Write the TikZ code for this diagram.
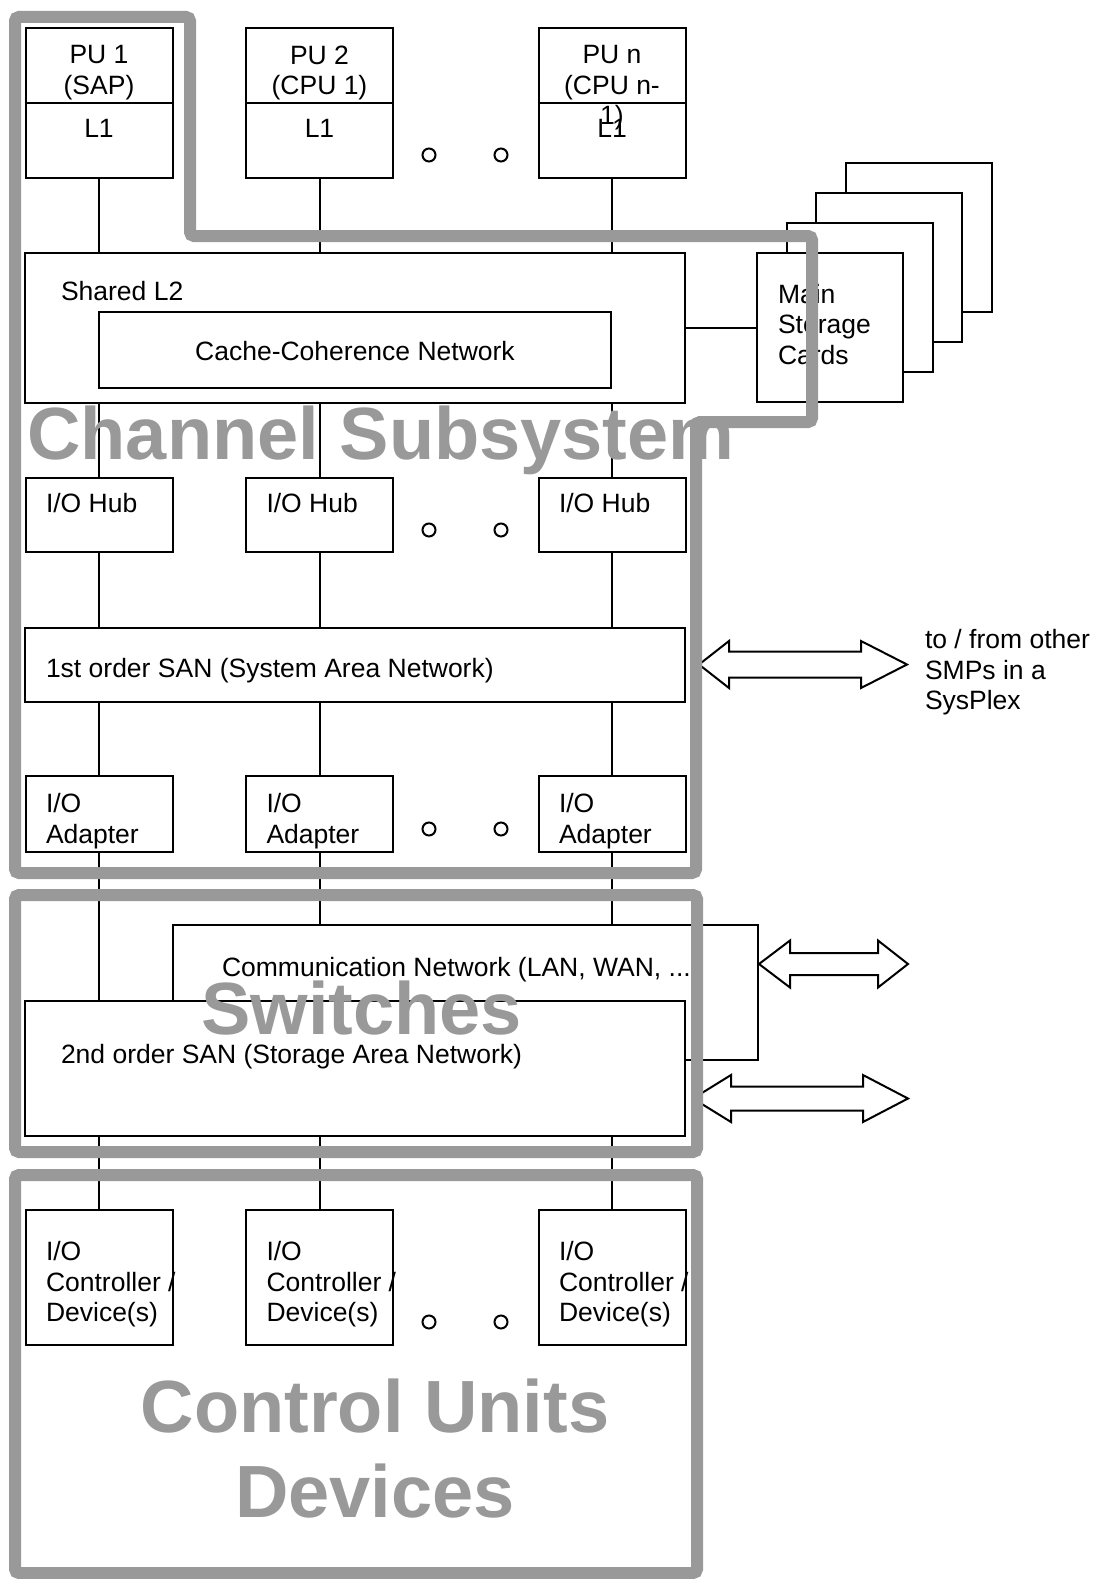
\documentclass[tikz,border=0pt]{standalone}
\usepackage{fontspec}
\setmainfont{Liberation Sans}
\definecolor{framegray}{RGB}{153,153,153}
\tikzset{
  box/.style={draw,rectangle,fill=white,inner sep=0pt},
  lbl/.style={inner sep=0pt,font=\fontsize{26.5}{30.5}\selectfont},
  bigtext/.style={inner sep=0pt,text=framegray,align=center,font=\bfseries\fontsize{74}{84.5}\selectfont},
  groupframe/.style={draw=framegray,line width=12pt,rounded corners=4pt},
  bigarr/.style={draw,fill=white,line join=miter},
  dotmark/.style={circle,draw,minimum size=13pt,inner sep=0pt}
}
\begin{document}
\begin{tikzpicture}[x=1pt,y=-1pt,line width=2pt]
\useasboundingbox (0,0) rectangle (1093,1579);

% processors
\node[box,minimum width=147pt,minimum height=150pt] (pu1) at (99,103) {};
\node[box,minimum width=147pt,minimum height=150pt] (pu2) at (319.5,103) {};
\node[box,minimum width=147pt,minimum height=150pt] (pu3) at (612,103) {};
\foreach \c in {1,2,3} \draw (pu\c.west) -- (pu\c.east);
\node[lbl,align=center,anchor=north] (pu1t) at (99,44.5) {PU 1\\(SAP)};
\node[lbl,align=center,anchor=north] (pu2t) at (319.5,44.5) {PU 2\\(CPU 1)};
\node[lbl,align=center,anchor=north] (pu3t) at (612,44.5) {PU n\\(CPU n-\\1)};
\foreach \c/\x in {1/99,2/319.5,3/612}
  \node[lbl,anchor=north] (l1\c) at (\x,118.5) {L1};

% shared L2 and main storage
\node[box,minimum width=660pt,minimum height=150pt] (l2) at (355,328) {};
\node[lbl,anchor=north west] (l2t) at (60,280.5) {Shared L2};
\node[box,minimum width=512pt,minimum height=76pt] (ccn) at (355,350) {};
\node[lbl,anchor=north] (ccnt) at (355,340.5) {Cache-Coherence Network};
\node[box,minimum width=146pt,minimum height=149pt] (ms4) at (918.5,237.5) {};
\node[box,minimum width=146pt,minimum height=149pt] (ms3) at (889,267.5) {};
\node[box,minimum width=146pt,minimum height=149pt] (ms2) at (859.5,297.5) {};
\node[box,minimum width=146pt,minimum height=149pt] (ms1) at (830,327.5) {};
\node[lbl,align=left,anchor=north west] (mst) at (777,283) {Main\\Storage\\Cards};
\draw (l2.east) -- (l2.east -| ms1.west);

% I/O hubs, 1st order SAN, adapters
\foreach \c/\x in {1/99,2/319.5,3/612} {
  \node[box,minimum width=147pt,minimum height=74pt] (hub\c) at (\x,515) {};
  \node[lbl,anchor=north west] (hub\c t) at (\x-54,492.5) {I/O Hub};
  \node[box,minimum width=147pt,minimum height=76pt] (ad\c) at (\x,814) {};
  \node[lbl,align=left,anchor=north west] (ad\c t) at (\x-54,792.5) {I/O\\Adapter};
}
\node[box,minimum width=660pt,minimum height=74pt] (san1) at (355,665) {};
\node[lbl,anchor=north west] (san1t) at (45,657.5) {1st order SAN (System Area Network)};
\node[lbl,align=left,anchor=north west] (plex) at (924,628.5) {to / from other\\SMPs in a\\SysPlex};

% networks
\node[box,minimum width=585pt,minimum height=135pt] (comm) at (465.5,992.5) {};
\node[lbl,anchor=north west] (commt) at (221,956.5) {Communication Network (LAN, WAN, ...};
\node[box,minimum width=660pt,minimum height=135pt] (san2) at (355,1068.5) {};
\node[lbl,anchor=north west] (san2t) at (60,1043.5) {2nd order SAN (Storage Area Network)};

% controllers
\foreach \c/\x in {1/99,2/319.5,3/612} {
  \node[box,minimum width=147pt,minimum height=135pt] (ctl\c) at (\x,1277.5) {};
  \node[lbl,align=left,anchor=north west] (ctl\c t) at (\x-54,1240.5) {I/O\\Controller /\\Device(s)};
}

% links
\foreach \c in {1,2,3} {
  \draw (pu\c.south) -- (pu\c.south |- l2.north);
  \draw (hub\c.north) -- (hub\c.north |- l2.south);
  \draw (hub\c.south) -- (hub\c.south |- san1.north);
  \draw (ad\c.north) -- (ad\c.north |- san1.south);
  \draw (ctl\c.north) -- (ctl\c.north |- san2.south);
}
\draw (ad1.south) -- (ad1.south |- san2.north);
\draw (ad2.south) -- (ad2.south |- comm.north);
\draw (ad3.south) -- (ad3.south |- comm.north);

% dots
\foreach \y [count=\i] in {155,530,829,1322} {
  \node[dotmark] (da\i) at (429,\y) {};
  \node[dotmark] (db\i) at (501,\y) {};
}

% fat double arrows
\coordinate (arA) at (699,664.5);
\coordinate (arB) at (759,964);
\coordinate (arC) at (693,1098.5);
\draw[bigarr] (arA) -- ++(30,-23.5) -- ++(0,10.5) -- ++(132,0) -- ++(0,-10.5) -- ++(46,23.5)
  -- ++(-46,23.5) -- ++(0,-10.5) -- ++(-132,0) -- ++(0,10.5) -- cycle;
\draw[bigarr] (arB) -- ++(31,-23.5) -- ++(0,12.5) -- ++(88,0) -- ++(0,-12.5) -- ++(30,23.5)
  -- ++(-30,23.5) -- ++(0,-12.5) -- ++(-88,0) -- ++(0,12.5) -- cycle;
\draw[bigarr] (arC) -- ++(38,-23.5) -- ++(0,11.5) -- ++(132,0) -- ++(0,-11.5) -- ++(45,23.5)
  -- ++(-45,23.5) -- ++(0,-11.5) -- ++(-132,0) -- ++(0,11.5) -- cycle;

% group labels and frames
\node[bigtext,anchor=base] (chs) at (381,459.5) {Channel Subsystem};
\node[bigtext,anchor=base] (sws) at (361.5,1034.5) {Switches};
\node[bigtext,anchor=north] (cud) at (375,1378) {Control Units\\Devices};
\draw[groupframe] (15,17) -- (190,17) -- (190,236) -- (812,236) -- (812,422)
  -- (696,422) -- (696,873) -- (15,873) -- cycle;
\draw[groupframe] (15,895) rectangle (697,1152);
\draw[groupframe] (15,1175) rectangle (697,1573);
\end{tikzpicture}
\end{document}
